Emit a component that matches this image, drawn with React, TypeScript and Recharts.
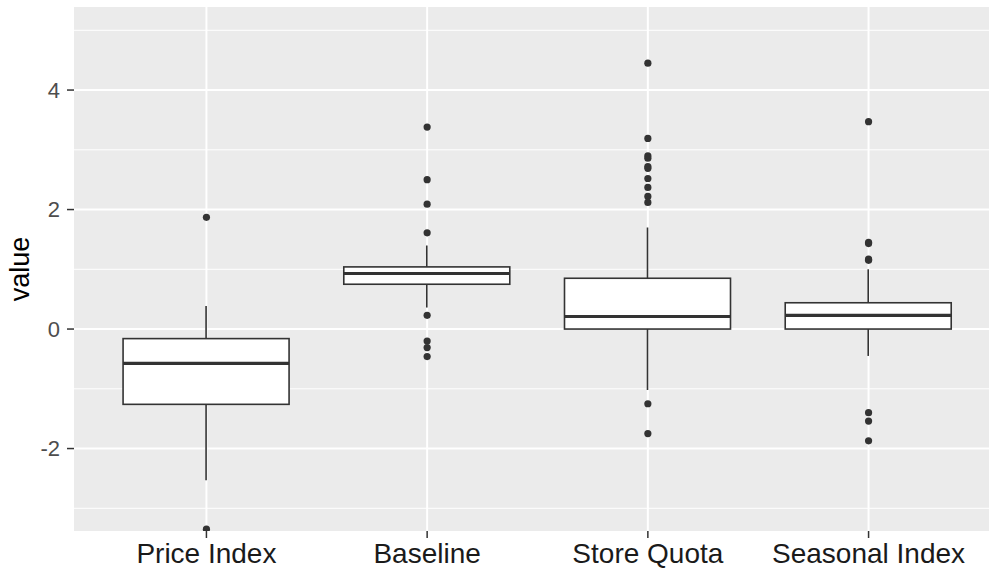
import React from 'react';
import { ComposedChart, Bar, Scatter, XAxis, YAxis, CartesianGrid } from 'recharts';

const categories = ['Price Index', 'Baseline', 'Store Quota', 'Seasonal Index'];
const whiskerLow = [-2.53, 0.36, -1.02, -0.45];
const q1 = [-1.26, 0.75, 0.0, 0.0];
const median = [-0.575, 0.93, 0.21, 0.23];
const q3 = [-0.16, 1.04, 0.85, 0.44];
const whiskerHigh = [0.385, 1.4, 1.7, 1.0];

const priceIndexOutliers = [1.87, -3.35];
const baselineOutliers = [3.38, 2.5, 2.09, 1.61, 0.23, -0.2, -0.31, -0.46];
const storeQuotaOutliers = [4.45, 3.19, 2.9, 2.86, 2.72, 2.69, 2.52, 2.37, 2.22, 2.12, -1.25, -1.75];
const seasonalOutliers = [3.47, 1.45, 1.43, 1.17, 1.15, -1.4, -1.54, -1.87];

const yMajorTicks = [-2, 0, 2, 4];
const yMinorTicks = [-3, -1, 1, 3, 5];
const xTicks = [1, 2, 3, 4];

const boxes = categories.map((name, i) => ({
  x: i + 1,
  name,
  lo: whiskerLow[i],
  q1: q1[i],
  med: median[i],
  q3: q3[i],
  hi: whiskerHigh[i],
}));

const outliers = [priceIndexOutliers, baselineOutliers, storeQuotaOutliers, seasonalOutliers].flatMap((vals, i) =>
  vals.map((value) => ({ x: i + 1, value }))
);

const INK = '#333333';

// draws the whole box + whiskers from the bar's [lo, hi] pixel extent
const BoxShape = (props: any) => {
  const { x, y, width, height, payload } = props;
  const top = Math.min(y, y + height);
  const h = Math.abs(height);
  const k = h / (payload.hi - payload.lo);
  const py = (v: number) => top + (payload.hi - v) * k;
  const cx = x + width / 2;
  return (
    <g>
      <line x1={cx} x2={cx} y1={py(payload.hi)} y2={py(payload.q3)} stroke={INK} strokeWidth={1.6} />
      <line x1={cx} x2={cx} y1={py(payload.q1)} y2={py(payload.lo)} stroke={INK} strokeWidth={1.6} />
      <rect
        x={x}
        y={py(payload.q3)}
        width={width}
        height={py(payload.q1) - py(payload.q3)}
        fill="#ffffff"
        stroke={INK}
        strokeWidth={1.6}
      />
      <line x1={x} x2={x + width} y1={py(payload.med)} y2={py(payload.med)} stroke={INK} strokeWidth={3.2} />
    </g>
  );
};

const Dot = (props: any) => <circle cx={props.cx} cy={props.cy} r={3.6} fill={INK} />;

const ValueLabel = (props: any) => {
  const vb = props.viewBox;
  const cy = vb.y + vb.height / 2;
  return (
    <text x={20} y={cy} transform={`rotate(-90 20 ${cy})`} textAnchor="middle" dominantBaseline="central" fontSize={27} fill="#000">
      value
    </text>
  );
};

export default function App() {
  return (
    <div style={{ position: 'fixed', left: 0, top: 0, width: 989, height: 573, overflow: 'hidden', background: '#fff' }}>
      <ComposedChart
        width={1001}
        height={573}
        data={boxes}
        margin={{ top: 7, right: 0, bottom: 0, left: 0 }}
        style={{ fontFamily: '"Liberation Sans", Arial, sans-serif' }}
      >
        <CartesianGrid
          fill="#EBEBEB"
          stroke="#ffffff"
          strokeWidth={1}
          vertical={false}
          horizontalValues={yMinorTicks}
        />
        <CartesianGrid stroke="#ffffff" strokeWidth={2} horizontalValues={yMajorTicks} verticalValues={xTicks} />
        <XAxis
          type="number"
          dataKey="x"
          domain={[0.4, 4.6]}
          ticks={xTicks}
          tickFormatter={(v: number) => categories[v - 1]}
          interval={0}
          height={42}
          axisLine={false}
          tickSize={7}
          tickMargin={5}
          tickLine={{ stroke: INK, strokeWidth: 1.5 }}
          tick={{ fontSize: 28, fill: '#1a1a1a' }}
        />
        <YAxis
          type="number"
          domain={[-3.38, 5.39]}
          ticks={yMajorTicks}
          allowDataOverflow
          width={74}
          axisLine={false}
          tickSize={7}
          tickMargin={7}
          tickLine={{ stroke: INK, strokeWidth: 1.5 }}
          tick={{ fontSize: 22, fill: '#4D4D4D' }}
          label={<ValueLabel />}
        />
        <Bar
          dataKey={(d: any) => [d.lo, d.hi]}
          barSize={166}
          shape={<BoxShape />}
          isAnimationActive={false}
        />
        <Scatter data={outliers} dataKey="value" shape={<Dot />} isAnimationActive={false} />
      </ComposedChart>
    </div>
  );
}
